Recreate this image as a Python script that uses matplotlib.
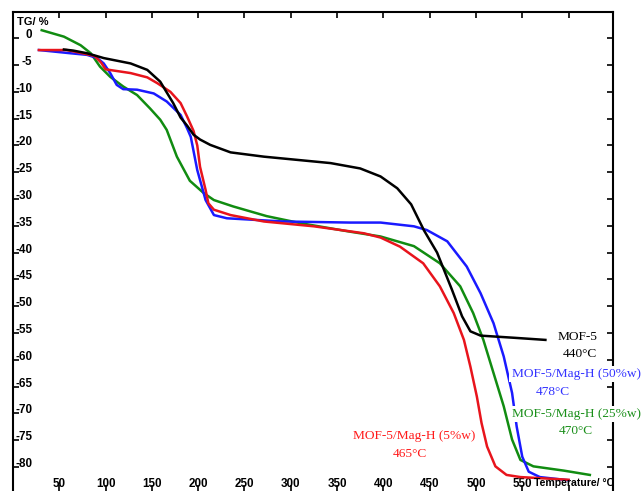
import matplotlib
matplotlib.use("Agg")
from matplotlib import pyplot as plt

# TG curves (temperature in °C, weight change in %)
mof5_t = [55, 65, 80, 98, 127, 145, 159, 173, 181, 188, 195, 202, 213, 235, 271, 307, 343,
          375, 397, 415, 430, 444, 458, 474, 485, 494, 505, 541, 575]
mof5_tg = [-2.1, -2.3, -2.8, -3.7, -4.7, -5.9, -8.1, -12.1, -14.8, -16.3, -18.0, -18.9, -19.9,
           -21.3, -22.1, -22.7, -23.3, -24.3, -25.8, -28.0, -31.0, -35.9, -40.0, -46.9, -51.9,
           -54.7, -55.5, -55.9, -56.3]

mag5_t = [28, 58, 75, 88, 95, 100, 127, 145, 156, 170, 181, 188, 195, 199, 202, 208, 211, 217,
          235, 271, 325, 379, 397, 418, 443, 461, 476, 487, 494, 501, 506, 512, 521, 533, 548, 600]
mag5_tg = [-2.2, -2.2, -2.8, -3.3, -4.5, -5.8, -6.5, -7.3, -8.4, -10.0, -12.1, -14.6, -17.3,
           -20.0, -24.0, -28.3, -30.8, -32.0, -33.0, -34.2, -35.1, -36.4, -37.2, -38.9, -42.0,
           -46.3, -51.3, -56.3, -61.3, -66.9, -71.8, -76.2, -79.9, -81.5, -81.9, -82.4]

mag50_t = [28, 62, 80, 91, 98, 105, 112, 119, 134, 152, 166, 181, 188, 192, 199, 208, 217, 231,
           292, 364, 397, 433, 447, 469, 490, 505, 519, 530, 539, 544, 550, 557, 569, 600]
mag50_tg = [-2.2, -2.8, -3.1, -3.7, -4.7, -6.5, -8.7, -9.5, -9.6, -10.3, -11.8, -14.3, -16.8,
            -18.4, -24.6, -30.2, -33.0, -33.6, -34.2, -34.4, -34.4, -35.1, -35.8, -37.9, -42.6,
            -47.6, -53.2, -59.4, -66.2, -72.5, -78.1, -80.9, -81.9, -82.5]

mag25_t = [31, 55, 73, 84, 94, 105, 119, 134, 148, 159, 166, 177, 191, 206, 217, 238, 274, 310,
           364, 397, 433, 461, 483, 497, 508, 519, 530, 539, 548, 562, 595, 623]
mag25_tg = [1.5, 0.3, -1.3, -2.8, -5.3, -7.2, -9.0, -10.6, -13.1, -15.2, -17.1, -22.1, -26.6,
            -28.9, -30.2, -31.4, -33.2, -34.5, -36.1, -37.0, -38.8, -42.0, -46.3, -51.3, -56.3,
            -62.5, -68.7, -74.9, -78.7, -79.9, -80.7, -81.5]

x_ticks = [50, 100, 150, 200, 250, 300, 350, 400, 450, 500, 550, 600]
x_labels = ["50", "100", "150", "200", "250", "300", "350", "400", "450", "500", "550", ""]
y_ticks = [0, -5, -10, -15, -20, -25, -30, -35, -40, -45, -50, -55, -60, -65, -70, -75, -80]

W, H = 641, 491
fig = plt.figure(figsize=(W / 100, H / 100), dpi=100)
ax = fig.add_axes([13 / W, 0, 600 / W, 479 / H])

ax.plot(mag25_t, mag25_tg, color="#118c11", lw=1.8)
ax.plot(mag50_t, mag50_tg, color="#1a1aff", lw=1.8)
ax.plot(mag5_t, mag5_tg, color="#e8141c", lw=1.8)
ax.plot(mof5_t, mof5_tg, color="black", lw=1.8)

ax.set_xlim(0, 648)
ax.set_ylim(-84.5, 4.9)

for side in ["left", "top", "right"]:
    ax.spines[side].set_linewidth(1.5)
ax.spines["bottom"].set_visible(False)

tick_font = dict(family="Liberation Sans", weight="bold", size=8.4)
ax.set_xticks(x_ticks, x_labels, **tick_font)
ax.set_yticks(y_ticks, [str(v) for v in y_ticks], **tick_font)
ax.tick_params(axis="x", top=True, bottom=True, direction="in", length=4, width=1.2, pad=-9.5)
ax.tick_params(axis="y", left=True, right=True, direction="in", length=4, width=1.2, pad=-13.7)
for lbl in ax.get_yticklabels():
    lbl.set_va("baseline")

fig.text(17 / W, 1 - 22 / H, "TG/ %", ha="left", va="center",
         family="Liberation Sans", weight="bold", size=8)
fig.text(614 / W, 1 - 483 / H, "Temperature/ °C", ha="right", va="center",
         family="Liberation Sans", weight="bold", size=7.6)

serif = dict(family="Liberation Serif", size=9.6, ha="center", va="center")
white = dict(facecolor="white", edgecolor="none", pad=1.5)


def label(x, y, text, color, box=False):
    fig.text(x / W, 1 - y / H, text, color=color, bbox=white if box else None, **serif)


label(578, 337, "MOF-5", "black")
label(580, 354, "440°C", "black")
label(576, 374, "MOF-5/Mag-H (50%w)", "#3333ff", box=True)
label(553, 392, "478°C", "#3333ff")
label(576, 414, "MOF-5/Mag-H (25%w)", "#1a8f1a", box=True)
label(576, 431, "470°C", "#1a8f1a")
label(414, 436, "MOF-5/Mag-H (5%w)", "#ff1a1a")
label(410, 454, "465°C", "#ff1a1a")

fig.savefig("out.png", dpi=100)
